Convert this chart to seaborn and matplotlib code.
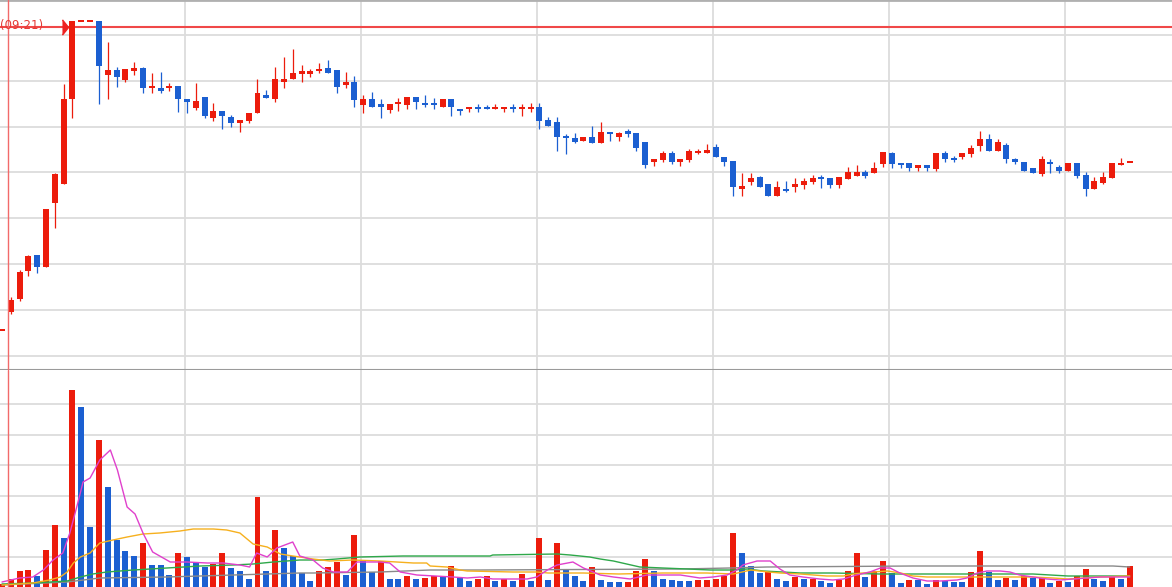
import numpy as np
import pandas as pd
import matplotlib
matplotlib.use("Agg")
import matplotlib.pyplot as plt
import seaborn as sns

# ---------------- data ----------------
opens = [7.0, 8.8, 10.1, 12.9, 14.5, 13.3, 19.7, 21.6, 30.1, 37.9,
         37.9, 37.9, 32.5, 33.0, 32.0, 32.9, 33.2, 31.2, 31.2, 31.2,
         31.4, 30.1, 29.2, 30.3, 28.2, 28.9, 28.3, 27.7, 27.9, 28.7,
         30.5, 30.1, 31.8, 32.1, 32.7, 32.7, 32.9, 33.2, 33.0, 31.5,
         31.8, 29.5, 30.1, 29.6, 29.0, 29.7, 29.5, 30.3, 29.7, 29.7,
         29.3, 30.1, 29.1, 29.1, 29.3, 29.3, 29.1, 29.1, 29.3, 29.1,
         29.1, 29.3, 28.0, 27.8, 26.4, 26.2, 25.9, 26.3, 25.7, 26.8,
         26.3, 26.9, 26.7, 25.8, 23.8, 24.0, 24.7, 23.8, 24.0, 24.7,
         24.7, 25.3, 24.3, 23.9, 21.1, 21.8, 22.3, 21.6, 20.4, 21.1,
         21.3, 21.5, 21.8, 22.3, 22.2, 21.5, 22.1, 22.4, 22.8, 22.7,
         23.6, 24.7, 23.7, 23.7, 23.2, 23.5, 23.1, 24.7, 24.2, 24.3,
         24.6, 25.4, 26.1, 24.9, 25.5, 24.1, 23.8, 23.2, 22.6, 23.8,
         23.3, 22.9, 23.7, 22.5, 21.1, 21.7, 22.2, 23.5, 23.8]
highs = [7.0, 10.3, 13.0, 14.5, 14.5, 19.1, 22.7, 31.6, 37.9, 37.9,
         37.9, 37.9, 35.8, 33.3, 33.1, 33.8, 33.3, 32.7, 32.8, 31.7,
         31.4, 30.1, 31.7, 30.3, 29.7, 28.9, 28.5, 28.0, 28.7, 32.1,
         31.0, 33.3, 34.3, 35.1, 33.5, 33.1, 33.7, 34.0, 33.0, 32.8,
         32.4, 30.5, 30.8, 30.1, 29.6, 30.2, 30.3, 30.3, 30.5, 30.2,
         30.1, 30.1, 29.1, 29.3, 29.6, 29.5, 29.6, 29.3, 29.6, 29.6,
         29.7, 29.7, 28.3, 28.3, 26.6, 26.7, 26.3, 27.4, 27.8, 26.8,
         26.8, 27.1, 26.7, 25.8, 24.1, 24.9, 24.9, 24.1, 25.1, 25.1,
         25.6, 25.6, 24.3, 23.9, 22.7, 22.7, 22.4, 21.6, 21.9, 21.9,
         22.2, 22.2, 22.5, 22.5, 22.2, 22.3, 23.3, 23.5, 23.0, 23.8,
         24.8, 24.8, 23.7, 23.7, 23.5, 23.5, 24.7, 24.9, 24.4, 24.7,
         25.5, 26.9, 26.6, 26.1, 25.7, 24.2, 23.8, 23.2, 24.4, 24.1,
         23.5, 23.7, 23.7, 22.8, 22.3, 22.8, 23.7, 24.2, 23.8]
lows = [7.0, 8.6, 9.9, 12.4, 12.7, 13.3, 17.2, 21.6, 28.2, 37.9,
        37.9, 29.6, 30.1, 31.3, 31.8, 32.5, 30.7, 30.7, 30.7, 30.9,
        28.8, 28.7, 29.0, 28.2, 27.9, 27.1, 27.3, 26.8, 27.7, 28.7,
        30.2, 29.8, 31.2, 32.1, 31.8, 32.3, 32.7, 32.7, 30.7, 31.2,
        29.3, 28.7, 29.3, 28.2, 28.7, 28.9, 29.1, 29.1, 29.3, 29.1,
        29.3, 28.4, 28.5, 28.8, 28.8, 29.1, 29.1, 28.8, 28.8, 28.4,
        28.8, 27.1, 27.4, 24.9, 24.6, 25.7, 25.9, 25.7, 25.7, 25.9,
        25.9, 26.3, 24.9, 23.2, 23.4, 23.8, 23.6, 23.4, 23.8, 24.6,
        24.7, 24.3, 23.4, 20.4, 20.4, 21.5, 21.3, 20.4, 20.4, 20.8,
        20.8, 21.1, 21.6, 21.2, 21.2, 21.2, 22.1, 22.4, 22.2, 22.7,
        23.3, 23.2, 23.2, 22.9, 22.9, 22.9, 22.9, 23.8, 23.8, 24.1,
        24.3, 24.9, 24.9, 24.9, 23.7, 23.6, 22.9, 22.7, 22.4, 22.7,
        22.7, 22.9, 22.2, 20.4, 21.1, 21.6, 22.2, 23.5, 23.8]
closes = [7.0, 10.0, 12.8, 14.4, 13.3, 19.1, 22.6, 30.1, 37.9, 37.9,
          37.9, 33.4, 33.0, 32.3, 33.1, 33.2, 31.2, 31.4, 30.9, 31.4,
          30.1, 29.8, 29.9, 28.4, 28.9, 28.4, 27.7, 28.0, 28.7, 30.7,
          30.2, 32.1, 32.1, 32.7, 32.8, 32.8, 33.1, 32.7, 31.3, 31.8,
          30.0, 30.1, 29.3, 29.3, 29.6, 29.8, 30.3, 29.8, 29.6, 29.6,
          30.1, 29.3, 29.0, 29.3, 29.1, 29.1, 29.3, 29.3, 29.1, 29.3,
          29.3, 27.9, 27.4, 26.3, 26.3, 25.8, 26.3, 25.7, 26.8, 26.6,
          26.7, 26.6, 25.2, 23.5, 24.1, 24.7, 23.8, 24.1, 24.9, 24.9,
          25.0, 24.3, 23.8, 21.3, 21.4, 22.2, 21.3, 20.4, 21.3, 21.0,
          21.6, 21.9, 22.2, 22.1, 21.5, 22.3, 22.8, 22.8, 22.4, 23.2,
          24.8, 23.6, 23.6, 23.2, 23.5, 23.2, 24.7, 24.1, 24.0, 24.7,
          25.2, 26.1, 24.9, 25.8, 24.1, 23.8, 22.9, 22.7, 24.1, 23.6,
          22.9, 23.7, 22.4, 21.1, 21.9, 22.3, 23.7, 23.7, 23.8]

volume = [3, 8, 16, 17, 11, 37, 62, 49, 197, 180,
          60, 147, 100, 47, 36, 31, 44, 22, 22, 12,
          34, 30, 24, 20, 23, 34, 19, 16, 8, 90,
          16, 57, 39, 31, 14, 6, 16, 20, 25, 12,
          52, 26, 15, 26, 8, 8, 11, 8, 9, 11,
          11, 21, 10, 6, 8, 11, 6, 8, 6, 13,
          6, 49, 7, 44, 18, 11, 6, 20, 7, 5,
          5, 5, 16, 28, 16, 8, 7, 6, 6, 7,
          7, 8, 11, 54, 34, 21, 14, 15, 8, 6,
          10, 8, 8, 6, 4, 7, 16, 34, 10, 16,
          26, 14, 4, 7, 7, 3, 7, 6, 5, 5,
          15, 36, 15, 7, 9, 7, 11, 9, 9, 4,
          6, 5, 11, 18, 8, 6, 10, 8, 21]
vol_dir = list("rrrrbrrbrb" "brbbbbrbbb" "rbbbrrbbbr" "brbbbbrrrb"
               "rbbrbbrbrr" "brbbrrbrbr" "brbrbbbrbb" "brrrbbbbbr"
               "rrrrbbbrbb" "rbrbbrrrbr" "rbbrbbrbbb" "rrbbrbrbrb"
               "rbrrbbrbr")

# volume average lines: (candle position, value)
ma5_x = [0, 2.0, 3.5, 4.7, 5.8, 6.9, 7.7, 8.6, 9.2, 10.0, 11.1, 12.3, 13.1, 14.2,
         15.1, 16.0, 17.1, 19.1, 21.0, 23.3, 25.1, 27.0, 28.1, 28.9, 30.1, 31.2,
         33.0, 33.8, 35.3, 36.4, 37.6, 39.2, 40.3, 42.9, 44.0, 45.2, 47.1, 51.2,
         52.8, 54.3, 55.7, 59.6, 60.7, 61.9, 63.0, 64.8, 66.0, 67.9, 69.4, 71.3,
         73.2, 75.0, 77.0, 79.2, 80.7, 82.3, 83.4, 84.1, 85.7, 87.2, 88.3, 89.4,
         90.9, 92.8, 94.3, 95.5, 97.0, 98.5, 99.7, 100.8, 101.9, 103.4, 105.0,
         106.5, 108.4, 109.5, 110.7, 111.8, 113.3, 114.4, 115.5, 117.0, 118.6,
         120.1, 121.6, 123.2, 124.6, 128.0]
ma5_v = [5, 9, 10, 17, 27, 34, 54, 84, 105, 109, 127, 137, 117, 80,
         73, 54, 35, 25, 25, 24, 24, 22, 20, 34, 30, 39,
         45, 31, 27, 19, 15, 15, 25, 25, 24, 15, 12, 10,
         9, 10, 8, 8, 10, 17, 22, 25, 19, 12, 10, 8,
         12, 12, 12, 9, 10, 12, 17, 22, 26, 26, 18, 12,
         10, 8, 7, 8, 12, 15, 19, 19, 14, 9, 6,
         6, 7, 9, 14, 16, 16, 15, 12, 10, 8,
         7, 8, 9, 10, 10]
ma20_x = [0, 3.5, 5.4, 6.6, 7.4, 8.1, 8.9, 10.0, 11.1, 12.6, 14.2, 16.0, 17.9,
          20.2, 21.7, 24.0, 25.5, 27.0, 28.5, 30.1, 31.6, 33.0, 33.8, 35.3, 37.2,
          39.8, 42.9, 46.7, 48.2, 48.6, 50.5, 52.0, 52.8, 58.0, 60.7, 62, 64, 66,
          70, 75, 80, 83, 85, 87, 88.3, 90.6, 93.6, 95.5, 96.6, 98.9, 100.5, 102,
          103.4, 105, 108, 111, 117, 119.3, 121, 124.6, 128]
ma20_v = [2, 4, 7, 10, 15, 24, 30, 34, 44, 47, 50, 53, 54,
          56, 58, 58, 57, 54, 43, 40, 33, 31, 30, 28, 26,
          27, 26, 24, 24, 21, 20, 17, 16, 15, 15, 14, 14, 14,
          13, 14, 14, 13, 17, 15, 14, 13, 11, 11, 13, 15, 16, 14,
          11, 10, 10, 10, 10, 9, 8, 10, 11]
ma60_x = [0, 3.5, 7.4, 8.9, 10.3, 11.9, 14.9, 18.7, 22.5, 26.2, 28.5, 30.8, 33.8,
          36.4, 38, 40.6, 45.5, 55.4, 55.7, 63, 64.5, 66.7, 67.9, 69.4, 70.9,
          72.4, 75, 77.8, 80.4, 83, 84.6, 86.4, 88.6, 90.6, 94.3, 99.7, 105.7,
          108.7, 117, 121, 128]
ma60_v = [3, 4, 6, 10, 13, 15, 17, 19, 21, 22, 23, 25, 27,
          27, 28, 30, 31, 31, 32, 33, 32, 30, 28, 26, 23,
          20, 19, 18, 17, 17, 18, 16, 15, 14, 14, 13, 13,
          13, 13, 11, 11]
ma120_x = [0, 7.4, 11.1, 18.7, 30.1, 33.8, 35.3, 42.9, 48.6, 54.3, 77, 82.6,
           86.8, 103.4, 126.1, 128]
ma120_v = [2, 5, 9, 10, 13, 14, 14, 15, 17, 17, 18, 19,
           20, 21, 21, 20]

time_label = "(09:21)"
marker_price = 37.33

# ---------------- style ----------------
RED = "#ec1c0c"
BLUE = "#1b5fd1"
GRID = "#dcdcdc"

sns.set_style("white")

fig = plt.figure(figsize=(11.72, 5.87), dpi=100)
split = 217 / 587
ax = fig.add_axes([0, split, 1, 1 - split])
axv = fig.add_axes([0, 0, 1, split], sharex=ax)

idx = np.arange(len(opens))
o = np.array(opens)
c = np.array(closes)
up = c >= o
cols = np.where(up, RED, BLUE)

# candles: wicks then bodies
ax.vlines(idx, lows, highs, colors=cols, linewidth=0.9, zorder=3)
body_lo = np.minimum(o, c)
body_h = np.maximum(np.abs(c - o), 0.2)
body_lo = np.where(np.abs(c - o) < 0.2, (o + c) / 2 - 0.1, body_lo)
ax.bar(idx, body_h, bottom=body_lo, width=0.68, color=cols, linewidth=0, zorder=4)

# volume bars + average lines
vdf = pd.DataFrame({"i": idx, "vol": volume, "dir": vol_dir})
sns.barplot(data=vdf, x="i", y="vol", hue="dir", palette={"r": RED, "b": BLUE},
            native_scale=True, dodge=False, width=0.68, linewidth=0, saturation=1,
            errorbar=None, legend=False, ax=axv, zorder=2)
sns.lineplot(x=ma120_x, y=ma120_v, color="#8a8a8a", linewidth=1.0, ax=axv, zorder=5)
sns.lineplot(x=ma60_x, y=ma60_v, color="#2ea84a", linewidth=1.0, ax=axv, zorder=5)
sns.lineplot(x=ma20_x, y=ma20_v, color="#f6b01e", linewidth=1.0, ax=axv, zorder=5)
sns.lineplot(x=ma5_x, y=ma5_v, color="#e040cc", linewidth=1.0, ax=axv, zorder=6)

# grids
vgrid = 20.75 + 19.98 * np.arange(6)
for a in (ax, axv):
    a.set_xlim(-0.227, 132.8)
    a.set_xticks(vgrid)
    a.tick_params(length=0, labelbottom=False, labelleft=False)
    a.grid(True, color=GRID, linewidth=1.3, zorder=0)
    a.set_axisbelow(True)
    a.set_xlabel("")
    a.set_ylabel("")
    for s in ("left", "right", "top", "bottom"):
        a.spines[s].set_visible(False)
    a.axvline(0.7, color="#f26a6a", linewidth=1.0, zorder=7)

ax.set_ylim(3.0, 40.0)
ax.set_yticks(np.linspace(36.5, 4.44, 8))
axv.set_ylim(0, 217)
axv.set_yticks(30.5 * np.arange(1, 7))

ax.spines["top"].set_visible(True)
ax.spines["top"].set_color("#b0b0b0")
ax.spines["top"].set_linewidth(2)
ax.spines["bottom"].set_visible(True)
ax.spines["bottom"].set_color("#9a9a9a")
ax.spines["bottom"].set_linewidth(1.5)

# current price marker line and time label
ax.axhline(marker_price, color="#f04848", linewidth=1.5, zorder=2)
ax.text(0.0, marker_price + 0.1, time_label, transform=ax.get_yaxis_transform(),
        ha="left", va="center", fontsize=8.5, color="#e53935", zorder=8)
ax.plot([7.2], [marker_price], marker=[(-0.4, -1), (0.4, 0), (-0.4, 1)],
        markersize=11, color="#ee2222", linestyle="none", zorder=8)

fig.savefig("out.png", dpi=100)
